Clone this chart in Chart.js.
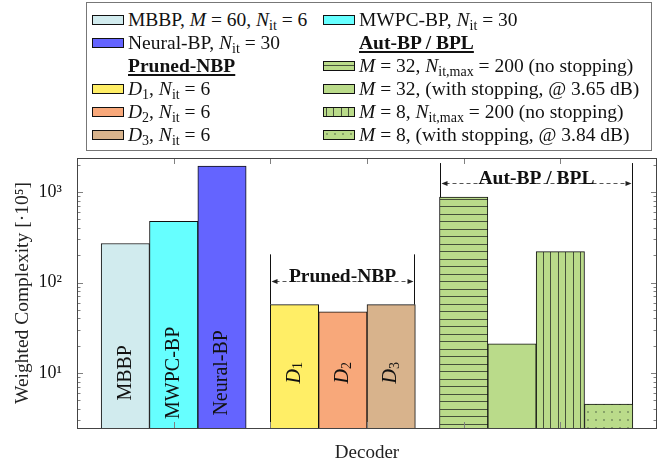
<!DOCTYPE html>
<html>
<head>
<meta charset="utf-8">
<script src="https://cdn.jsdelivr.net/npm/chart.js@4.4.0/dist/chart.umd.min.js"></script>
<style>
  body { margin: 0; background: #fff; }
  #wrap { position: relative; width: 662px; height: 468px; }
  #legend {
    position: absolute; left: 86px; top: 2px; width: 566px; height: 149px;
    box-sizing: border-box; border: 1px solid #777; background: #fff;
    padding: 5px 0 0 5px;
    display: grid; grid-template-columns: 231px auto; grid-auto-rows: 23px;
    font: 19.5px 'Liberation Serif', serif; color: #111;
  }
  .item { display: flex; align-items: center; white-space: nowrap; }
  .item canvas { display: block; margin-right: 4px; }
  .item sub { font-size: 0.72em; line-height: 0; vertical-align: -0.25em; }
  .head { margin-left: 36px; font-weight: bold; text-decoration: underline; text-decoration-thickness: 1.5px; text-underline-offset: 2px; }
</style>
</head>
<body>
<div id="wrap">
  <canvas id="chart" width="662" height="468"></canvas>
  <div id="legend"></div>
</div>
<script>
// data
const decoders = ['MBBP', 'MWPC-BP', 'Neural-BP', 'D1', 'D2', 'D3', 'Aut-BP M=32', 'Aut-BP M=32 stop', 'Aut-BP M=8', 'Aut-BP M=8 stop'];
const xPositions = [1, 2, 3, 4.5, 5.5, 6.5, 8, 9, 10, 11];
const complexity = [270, 475, 1940, 57, 47.5, 57, 880, 21, 220, 4.5];
const barLabels = ['MBBP', 'MWPC-BP', 'Neural-BP', 'D_1', 'D_2', 'D_3', '', '', '', ''];
const legendLabels = [
  'MBBP, <i>M</i> = 60, <i>N</i><sub>it</sub> = 6',
  'MWPC-BP, <i>N</i><sub>it</sub> = 30',
  'Neural-BP, <i>N</i><sub>it</sub> = 30',
  '<i>D</i><sub>1</sub>, <i>N</i><sub>it</sub> = 6',
  '<i>D</i><sub>2</sub>, <i>N</i><sub>it</sub> = 6',
  '<i>D</i><sub>3</sub>, <i>N</i><sub>it</sub> = 6',
  '<i>M</i> = 32, <i>N</i><sub>it,max</sub> = 200 (no stopping)',
  '<i>M</i> = 32, (with stopping, @ 3.65 dB)',
  '<i>M</i> = 8, <i>N</i><sub>it,max</sub> = 200 (no stopping)',
  '<i>M</i> = 8, (with stopping, @ 3.84 dB)'
];
// row by row, two columns
const legendOrder = [0, 1, 2, 'Aut-BP / BPL', 'Pruned-NBP', 6, 3, 7, 4, 8, 5, 9];
const yTickValues = [10, 100, 1000];
const yTickLabels = ['10¹', '10²', '10³'];
const xTickValues = [2, 4, 6, 8, 10];
const groups = [
  { label: 'Pruned-NBP', first: 3, last: 5, level: 105, top: 205 },
  { label: 'Aut-BP / BPL', first: 6, last: 9, level: 1260, top: 2100 }
];

// styles
const fillColors = ['#d1ebee', '#66ffff', '#6464ff', '#ffee66', '#f8a87a', '#d8b38c', '#badb8a', '#badb8a', '#badb8a', '#badb8a'];
const hatches = [null, null, null, null, null, null, 'hlines', null, 'vlines', 'dots'];
const FONT = "'Liberation Serif', serif";

function makeFill(ctx, color, hatch) {
  if (!hatch) return color;
  const t = document.createElement('canvas');
  const tc = t.getContext('2d');
  if (hatch === 'hlines') { t.width = 8; t.height = 15; }
  else if (hatch === 'vlines') { t.width = 15; t.height = 8; }
  else { t.width = 8; t.height = 8; }
  tc.fillStyle = color;
  tc.fillRect(0, 0, t.width, t.height);
  tc.fillStyle = '#46513a';
  if (hatch === 'hlines') { tc.fillRect(0, 4, 8, 1); tc.fillRect(0, 11, 8, 1); }
  else if (hatch === 'vlines') { tc.fillRect(3, 0, 1, 8); tc.fillRect(10, 0, 1, 8); }
  else { tc.fillStyle = '#71885c'; tc.beginPath(); tc.arc(4, 4, 0.9, 0, Math.PI * 2); tc.fill(); }
  return ctx.createPattern(t, 'repeat');
}

const canvas = document.getElementById('chart');
const mainCtx = canvas.getContext('2d');
const fills = fillColors.map((c, i) => makeFill(mainCtx, c, hatches[i]));

function drawRuns(ctx, runs) {
  let total = 0;
  runs.forEach(r => { ctx.font = r.font; r.w = ctx.measureText(r.text).width; total += r.w; });
  let x = -total / 2;
  runs.forEach(r => { ctx.font = r.font; ctx.fillText(r.text, x, r.dy); x += r.w; });
}

const decor = {
  id: 'decor',
  afterDatasetsDraw(chart) {
    const { ctx, chartArea: a, scales: { x: xs, y: ys } } = chart;
    ctx.save();
    // tick marks, inside, both sides
    ctx.strokeStyle = '#808080';
    ctx.lineWidth = 1;
    const e0 = Math.floor(Math.log10(ys.min)), e1 = Math.ceil(Math.log10(ys.max));
    for (let e = e0; e <= e1; e++) {
      for (let m = 1; m <= 9; m++) {
        const v = m * Math.pow(10, e);
        if (v < ys.min || v > ys.max) continue;
        const py = Math.round(ys.getPixelForValue(v)) + 0.5;
        const len = m === 1 ? 6 : 3.5;
        ctx.beginPath();
        ctx.moveTo(a.left, py); ctx.lineTo(a.left + len, py);
        ctx.moveTo(a.right, py); ctx.lineTo(a.right - len, py);
        ctx.stroke();
      }
    }
    xTickValues.forEach(v => {
      const px = Math.round(xs.getPixelForValue(v)) + 0.5;
      ctx.beginPath();
      ctx.moveTo(px, a.top); ctx.lineTo(px, a.top + 6);
      ctx.moveTo(px, a.bottom); ctx.lineTo(px, a.bottom - 6);
      ctx.stroke();
    });
    // axis box
    ctx.strokeStyle = '#444';
    ctx.strokeRect(Math.round(a.left) + 0.5, Math.round(a.top) + 0.5, Math.round(a.width) - 1, Math.round(a.height));

    // rotated labels inside bars
    ctx.fillStyle = '#111';
    ctx.textBaseline = 'middle';
    ctx.textAlign = 'left';
    barLabels.forEach((lab, i) => {
      if (!lab) return;
      const el = chart.getDatasetMeta(i).data[0];
      ctx.save();
      ctx.translate(el.x, ys.getPixelForValue(10));
      ctx.rotate(-Math.PI / 2);
      if (lab.includes('_')) {
        const [b, s] = lab.split('_');
        drawRuns(ctx, [{ text: b, font: 'italic 20px ' + FONT, dy: 0 }, { text: s, font: '14px ' + FONT, dy: 4 }]);
      } else {
        drawRuns(ctx, [{ text: lab, font: '20px ' + FONT, dy: 0 }]);
      }
      ctx.restore();
    });

    // group brackets
    groups.forEach(g => {
      const e1 = chart.getDatasetMeta(g.first).data[0];
      const e2 = chart.getDatasetMeta(g.last).data[0];
      const xl = Math.round(e1.x - e1.width / 2) + 0.5;
      const xr = Math.round(e2.x + e2.width / 2) - 0.5;
      const yTop = ys.getPixelForValue(g.top);
      const yArr = Math.round(ys.getPixelForValue(g.level)) + 0.5;
      ctx.strokeStyle = '#111';
      ctx.setLineDash([]);
      ctx.beginPath();
      ctx.moveTo(xl, yTop); ctx.lineTo(xl, e1.y);
      ctx.moveTo(xr, yTop); ctx.lineTo(xr, e2.y);
      ctx.stroke();
      ctx.strokeStyle = '#555';
      ctx.setLineDash([4, 3]);
      ctx.beginPath();
      ctx.moveTo(xl + 5, yArr); ctx.lineTo(xr - 5, yArr);
      ctx.stroke();
      ctx.setLineDash([]);
      ctx.fillStyle = '#222';
      ctx.beginPath();
      ctx.moveTo(xl + 1, yArr); ctx.lineTo(xl + 7, yArr - 2.5); ctx.lineTo(xl + 7, yArr + 2.5); ctx.closePath();
      ctx.moveTo(xr - 1, yArr); ctx.lineTo(xr - 7, yArr - 2.5); ctx.lineTo(xr - 7, yArr + 2.5); ctx.closePath();
      ctx.fill();
      ctx.fillStyle = '#111';
      ctx.font = 'bold 19.5px ' + FONT;
      ctx.textAlign = 'center';
      ctx.textBaseline = 'alphabetic';
      ctx.fillText(g.label, (xl + xr) / 2, yArr);
    });
    ctx.restore();
  }
};

const chart = new Chart(mainCtx, {
  type: 'bar',
  data: {
    datasets: complexity.map((v, i) => ({
      label: decoders[i],
      data: [{ x: xPositions[i], y: v }],
      backgroundColor: fills[i],
      borderColor: '#111',
      borderWidth: 1,
      grouped: false,
      barPercentage: 1,
      categoryPercentage: 1
    }))
  },
  options: {
    responsive: false,
    animation: false,
    devicePixelRatio: 1,
    layout: { padding: { left: 0, top: 158, right: 5, bottom: 0 } },
    plugins: { legend: { display: false }, tooltip: { enabled: false } },
    scales: {
      x: {
        type: 'linear',
        offset: false,
        min: 0,
        max: 12,
        grid: { display: false },
        border: { display: false },
        ticks: { display: false },
        afterBuildTicks: s => { s.ticks = xTickValues.map(v => ({ value: v })); },
        afterFit: s => { s.height = 40; },
        title: { display: true, text: 'Decoder', color: '#222', font: { family: FONT, size: 19 }, padding: { top: 0, bottom: 4 } }
      },
      y: {
        type: 'logarithmic',
        min: 2.45,
        max: 2390,
        grid: { display: false },
        border: { display: false },
        afterBuildTicks: s => { s.ticks = yTickValues.map(v => ({ value: v })); },
        afterFit: s => { s.width = 77; },
        ticks: {
          padding: 7,
          color: '#111',
          font: { family: FONT, size: 18 },
          callback: (v, i) => yTickLabels[i]
        },
        title: { display: true, text: 'Weighted Complexity [·10⁵]', color: '#222', font: { family: FONT, size: 19.5 }, padding: { top: 11, bottom: 0 } }
      }
    }
  },
  plugins: [decor]
});

// html legend built from the chart's datasets
const legendEl = document.getElementById('legend');
legendOrder.forEach(k => {
  const item = document.createElement('div');
  item.className = 'item';
  if (typeof k === 'string') {
    const h = document.createElement('span');
    h.className = 'head';
    h.textContent = k;
    item.appendChild(h);
  } else {
    const ds = chart.data.datasets[k];
    const sw = document.createElement('canvas');
    sw.width = 32; sw.height = 10;
    const sc = sw.getContext('2d');
    sc.fillStyle = makeFill(sc, fillColors[k], hatches[k]);
    sc.fillRect(0, 0, 32, 10);
    sc.strokeStyle = ds.borderColor;
    sc.strokeRect(0.5, 0.5, 31, 9);
    const t = document.createElement('span');
    t.innerHTML = legendLabels[k];
    item.appendChild(sw);
    item.appendChild(t);
  }
  legendEl.appendChild(item);
});
</script>
</body>
</html>
